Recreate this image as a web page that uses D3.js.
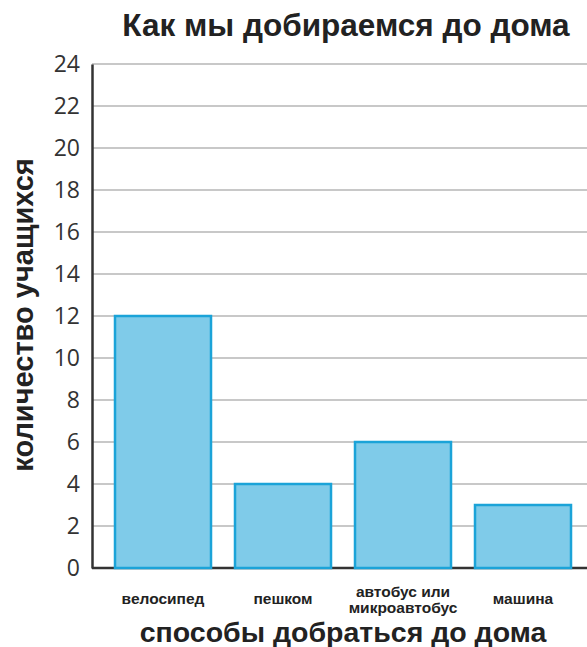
<!DOCTYPE html>
<html>
<head>
<meta charset="utf-8">
<script src="https://cdn.jsdelivr.net/npm/d3@7"></script>
<style>
  html, body { margin: 0; padding: 0; background: #fff; }
  svg { display: block; }
</style>
</head>
<body>
<svg id="chart" width="587" height="647"></svg>
<script>
// Ways pupils get home
const categories = ["велосипед", "пешком", "автобус или\nмикроавтобус", "машина"];
const pupils = [12, 4, 6, 3];
const yTicks = [0, 2, 4, 6, 8, 10, 12, 14, 16, 18, 20, 22, 24];

const svg = d3.select("#chart");
const W = 587, H = 647;
const plotLeft = 92, plotBottom = 568, plotTop = 64;

const y = d3.scaleLinear().domain([0, 24]).range([plotBottom, plotTop]);
const x = d3.scaleBand().domain(categories).range([91, 595])
  .paddingInner(0.2).paddingOuter(0.2);

// horizontal grid
svg.append("g").selectAll("line").data(yTicks.filter(d => d > 0)).join("line")
  .attr("x1", plotLeft).attr("x2", W)
  .attr("y1", d => y(d)).attr("y2", d => y(d))
  .attr("stroke", "#c8c8c8").attr("stroke-width", 2);

// baseline
svg.append("line").attr("x1", plotLeft).attr("x2", W)
  .attr("y1", y(0)).attr("y2", y(0))
  .attr("stroke", "#333").attr("stroke-width", 2.5);

// bars
svg.append("g").selectAll("rect").data(pupils).join("rect")
  .attr("x", (d, i) => x(categories[i]))
  .attr("y", d => y(d))
  .attr("width", x.bandwidth())
  .attr("height", d => y(0) - y(d))
  .attr("fill", "#7fcbe9")
  .attr("stroke", "#1ba3d8")
  .attr("stroke-width", 2.5);

// y axis
const yAxis = svg.append("g").attr("transform", `translate(${plotLeft},0)`)
  .call(d3.axisLeft(y).tickValues(yTicks).tickSize(0).tickPadding(12));
yAxis.select(".domain").attr("stroke", "#333").attr("stroke-width", 2.5);
yAxis.selectAll("text")
  .attr("font-family", "'Open Sans', sans-serif")
  .attr("font-size", 23)
  .attr("fill", "#333");

// category labels
const catG = svg.append("g");
categories.forEach((c, i) => {
  const lines = c.split("\n");
  const cx = x(c) + x.bandwidth() / 2;
  const t = catG.append("text")
    .attr("x", cx)
    .attr("text-anchor", "middle")
    .attr("font-family", "'Liberation Sans', Arial, sans-serif")
    .attr("font-weight", "bold")
    .attr("font-size", 15.5)
    .attr("fill", "#222");
  const y0 = lines.length === 1 ? 604 : 597;
  lines.forEach((ln, k) => {
    t.append("tspan").attr("x", cx).attr("y", y0 + k * 16).text(ln);
  });
});

// title
svg.append("text")
  .attr("x", 346).attr("y", 36)
  .attr("text-anchor", "middle")
  .attr("font-family", "'Liberation Sans', Arial, sans-serif")
  .attr("font-weight", "bold")
  .attr("font-size", 31.5)
  .attr("fill", "#222")
  .text("Как мы добираемся до дома");

// x axis title
svg.append("text")
  .attr("x", 343).attr("y", 642)
  .attr("text-anchor", "middle")
  .attr("font-family", "'Liberation Sans', Arial, sans-serif")
  .attr("font-weight", "bold")
  .attr("font-size", 28.5)
  .attr("fill", "#222")
  .text("способы добраться до дома");

// y axis title
svg.append("text")
  .attr("transform", "translate(33,315) rotate(-90)")
  .attr("text-anchor", "middle")
  .attr("font-family", "'Liberation Sans', Arial, sans-serif")
  .attr("font-weight", "bold")
  .attr("font-size", 29)
  .attr("fill", "#222")
  .text("количество учащихся");
</script>
</body>
</html>
